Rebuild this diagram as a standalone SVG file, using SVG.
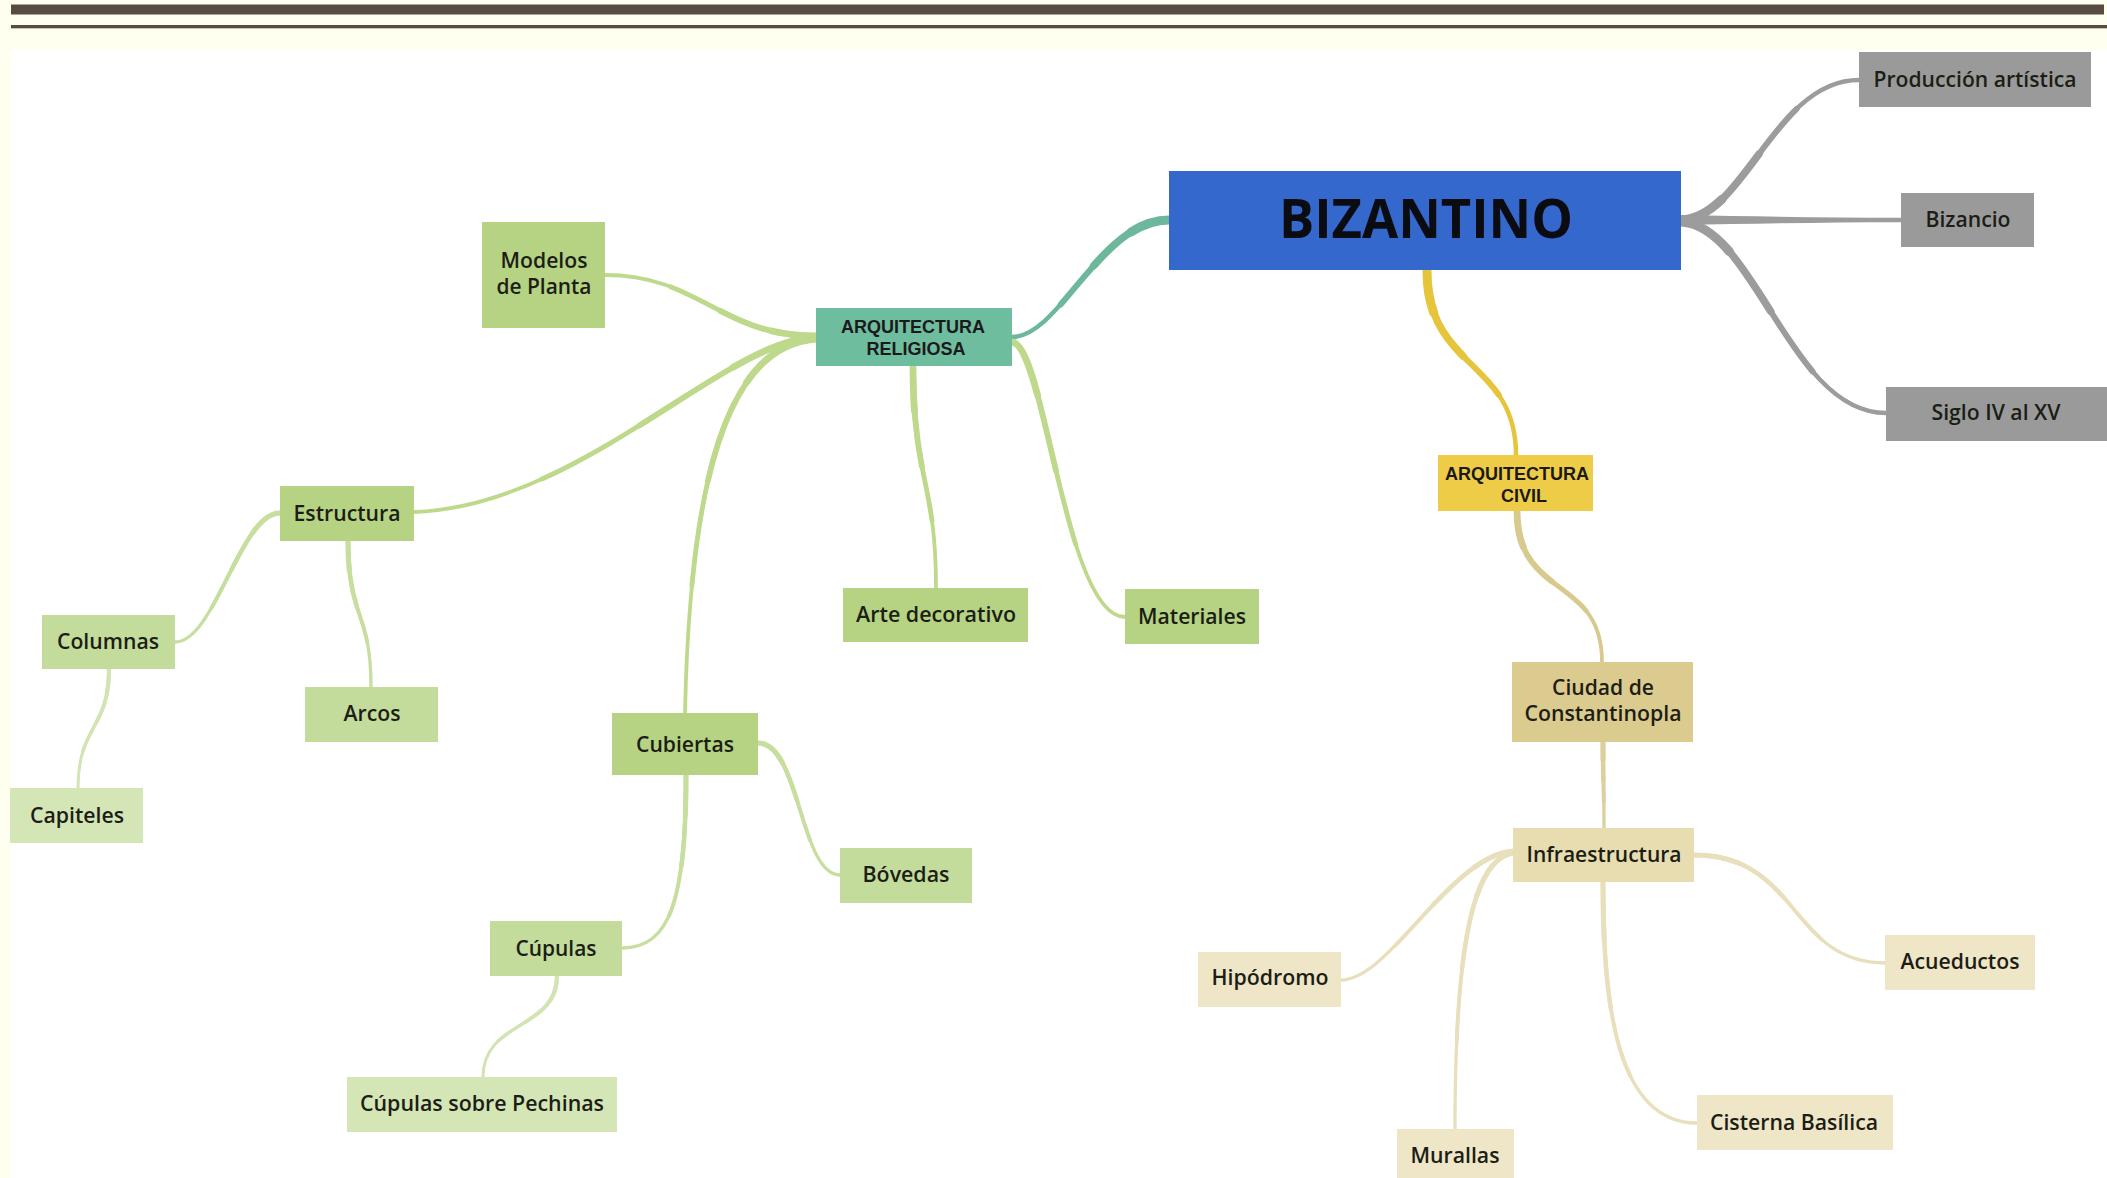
<svg xmlns="http://www.w3.org/2000/svg" xmlns:xlink="http://www.w3.org/1999/xlink" width="2107" height="1178" viewBox="0 0 2107 1178">
<style>
.cn use{fill:none}
.cn .a{stroke-linecap:butt}
.cn .b{stroke-linecap:round;stroke-dasharray:70 200}
.cn .c{stroke-linecap:round;stroke-dasharray:45 200}
.cn .d{stroke-linecap:round;stroke-dasharray:20 200}
.gry{stroke:#9c9c9c}.tea{stroke:#6db89c}.yel{stroke:#e6c53c}
.gr2{stroke:#bfd98c}.gr3{stroke:#c7de9f}.gr4{stroke:#d2e4b3}
.tn2{stroke:#d8ca8e}.tn3{stroke:#ddd09e}.tn4{stroke:#e8dfbc}
.L1 .a{stroke-width:4.5}.L1 .b{stroke-width:6}.L1 .c{stroke-width:7.5}.L1 .d{stroke-width:9}
.L2 .a{stroke-width:3.8}.L2 .b{stroke-width:4.8}.L2 .c{stroke-width:5.8}.L2 .d{stroke-width:6.8}
.L3 .a{stroke-width:3.3}.L3 .b{stroke-width:3.9}.L3 .c{stroke-width:4.5}.L3 .d{stroke-width:5.1}
.L4 .a{stroke-width:3}.L4 .b{stroke-width:3.4}.L4 .c{stroke-width:3.8}.L4 .d{stroke-width:4.2}
.bx-gray{fill:#9a9a9a}.bx-blue{fill:#3468cd}.bx-teal{fill:#6fbd9f}
.bx-g2{fill:#b5d383}.bx-g3{fill:#c4dc9b}.bx-g4{fill:#d4e6b6}
.bx-yel{fill:#eecc48}.bx-t2{fill:#dccb8e}.bx-t3{fill:#e8ddb0}.bx-t4{fill:#eee6c6}
.lb{font-family:"Open Sans","Liberation Sans",sans-serif;font-weight:600;font-size:21px;fill:#1c1e16;text-anchor:middle}
.ar{font-family:"Liberation Sans",Arial,sans-serif;font-weight:700;font-size:18px;fill:#1a1a1a;text-anchor:middle}
.ti{font-family:"Open Sans","Liberation Sans",sans-serif;font-weight:700;font-size:53px;fill:#0b0b12;text-anchor:middle}
</style>
<defs>
<path id="c1" pathLength="100" d="M1681 220 C1745 218 1775 80 1859 80"/>
<path id="c3" pathLength="100" d="M1681 222 C1755 225 1790 413 1886 413"/>
<path id="c4" pathLength="100" d="M1169 220 C1100 220 1060 337 1012 337"/>
<path id="c5" pathLength="100" d="M1427 271 C1427 370 1516 360 1516 455"/>
<path id="c6" pathLength="100" d="M816 336 C720 336 700 275 605 275"/>
<path id="c7" pathLength="100" d="M816 338 C730 335 580 507 414 512"/>
<path id="c8" pathLength="100" d="M816 339 C730 345 690 470 685 713"/>
<path id="c9" pathLength="100" d="M913 366 C913 480 936 480 936 588"/>
<path id="c10" pathLength="100" d="M1012 342 C1045 345 1065 617 1125 617"/>
<path id="c11" pathLength="100" d="M280 513 C240 513 215 642 175 642"/>
<path id="c12" pathLength="100" d="M348 541 C348 620 371 610 371 687"/>
<path id="c13" pathLength="100" d="M758 743 C800 743 800 875 840 875"/>
<path id="c14" pathLength="100" d="M686 775 C686 900 670 948 622 948"/>
<path id="c15" pathLength="100" d="M109 669 C109 730 78 725 78 788"/>
<path id="c16" pathLength="100" d="M557 976 C557 1030 483 1020 483 1077"/>
<path id="c17" pathLength="100" d="M1517 511 C1517 600 1602 575 1602 662"/>
<path id="c18" pathLength="100" d="M1603 742 C1603 785 1604 785 1604 828"/>
<path id="c19" pathLength="100" d="M1514 851 C1450 855 1390 980 1341 980"/>
<path id="c20" pathLength="100" d="M1513 853 C1470 860 1455 960 1455 1129"/>
<path id="c21" pathLength="100" d="M1603 882 C1603 1000 1615 1123 1697 1123"/>
<path id="c22" pathLength="100" d="M1694 855 C1800 855 1790 963 1885 963"/>
</defs>

<g id="background">
<rect width="2107" height="1178" fill="#fffff0"/>
<rect x="11" y="50" width="2096" height="1128" fill="#ffffff"/>
<rect x="11" y="4" width="2093" height="11" fill="#aaa39a"/>
<rect x="11" y="5" width="2093" height="9" fill="#574b44"/>
<rect x="11" y="25" width="2096" height="4" fill="#c8c2b8"/>
<rect x="11" y="25" width="2096" height="3" fill="#574b44"/>
</g>

<g id="connectors">
<g class="cn gry L1"><use href="#c1" class="a"/><use href="#c1" class="b"/><use href="#c1" class="c"/><use href="#c1" class="d"/></g>
<path id="c2" d="M1681 215 C1760 216.5 1830 217.7 1901 217.8 L1901 222.2 C1830 222.3 1760 223.5 1681 225 Z" fill="#9c9c9c"/>
<g class="cn gry L1"><use href="#c3" class="a"/><use href="#c3" class="b"/><use href="#c3" class="c"/><use href="#c3" class="d"/></g>
<g class="cn tea L1"><use href="#c4" class="a"/><use href="#c4" class="b"/><use href="#c4" class="c"/><use href="#c4" class="d"/></g>
<g class="cn yel L1"><use href="#c5" class="a"/><use href="#c5" class="b"/><use href="#c5" class="c"/><use href="#c5" class="d"/></g>
<g class="cn gr2 L2"><use href="#c6" class="a"/><use href="#c6" class="b"/><use href="#c6" class="c"/><use href="#c6" class="d"/></g>
<g class="cn gr2 L2"><use href="#c7" class="a"/><use href="#c7" class="b"/><use href="#c7" class="c"/><use href="#c7" class="d"/></g>
<g class="cn gr2 L2"><use href="#c8" class="a"/><use href="#c8" class="b"/><use href="#c8" class="c"/><use href="#c8" class="d"/></g>
<g class="cn gr2 L2"><use href="#c9" class="a"/><use href="#c9" class="b"/><use href="#c9" class="c"/><use href="#c9" class="d"/></g>
<g class="cn gr2 L2"><use href="#c10" class="a"/><use href="#c10" class="b"/><use href="#c10" class="c"/><use href="#c10" class="d"/></g>
<g class="cn gr3 L3"><use href="#c11" class="a"/><use href="#c11" class="b"/><use href="#c11" class="c"/><use href="#c11" class="d"/></g>
<g class="cn gr3 L3"><use href="#c12" class="a"/><use href="#c12" class="b"/><use href="#c12" class="c"/><use href="#c12" class="d"/></g>
<g class="cn gr3 L3"><use href="#c13" class="a"/><use href="#c13" class="b"/><use href="#c13" class="c"/><use href="#c13" class="d"/></g>
<g class="cn gr3 L3"><use href="#c14" class="a"/><use href="#c14" class="b"/><use href="#c14" class="c"/><use href="#c14" class="d"/></g>
<g class="cn gr4 L4"><use href="#c15" class="a"/><use href="#c15" class="b"/><use href="#c15" class="c"/><use href="#c15" class="d"/></g>
<g class="cn gr4 L4"><use href="#c16" class="a"/><use href="#c16" class="b"/><use href="#c16" class="c"/><use href="#c16" class="d"/></g>
<g class="cn tn2 L2"><use href="#c17" class="a"/><use href="#c17" class="b"/><use href="#c17" class="c"/><use href="#c17" class="d"/></g>
<g class="cn tn3 L3"><use href="#c18" class="a"/><use href="#c18" class="b"/><use href="#c18" class="c"/><use href="#c18" class="d"/></g>
<g class="cn tn4 L3"><use href="#c19" class="a"/><use href="#c19" class="b"/><use href="#c19" class="c"/><use href="#c19" class="d"/></g>
<g class="cn tn4 L3"><use href="#c20" class="a"/><use href="#c20" class="b"/><use href="#c20" class="c"/><use href="#c20" class="d"/></g>
<g class="cn tn4 L3"><use href="#c21" class="a"/><use href="#c21" class="b"/><use href="#c21" class="c"/><use href="#c21" class="d"/></g>
<g class="cn tn4 L3"><use href="#c22" class="a"/><use href="#c22" class="b"/><use href="#c22" class="c"/><use href="#c22" class="d"/></g>
</g>

<g id="n-bizantino"><rect class="bx-blue" x="1169" y="171" width="512" height="99"/><text class="ti" x="1426" y="238" textLength="294" lengthAdjust="spacingAndGlyphs">BIZANTINO</text></g>
<g id="n-produccion"><rect class="bx-gray" x="1859" y="52" width="232" height="55"/><text class="lb" x="1975" y="87" textLength="203" lengthAdjust="spacingAndGlyphs">Producción artística</text></g>
<g id="n-bizancio"><rect class="bx-gray" x="1901" y="193" width="133" height="54"/><text class="lb" x="1968" y="227" textLength="85" lengthAdjust="spacingAndGlyphs">Bizancio</text></g>
<g id="n-siglo"><rect class="bx-gray" x="1886" y="387" width="221" height="54"/><text class="lb" x="1996" y="420" textLength="129" lengthAdjust="spacingAndGlyphs">Siglo IV al XV</text></g>

<g id="n-arq-religiosa"><rect class="bx-teal" x="816" y="308" width="196" height="58"/><text class="ar" x="913" y="333">ARQUITECTURA</text><text class="ar" x="916" y="355">RELIGIOSA</text></g>
<g id="n-modelos"><rect class="bx-g2" x="482" y="222" width="123" height="106"/><text class="lb" x="544" y="268" textLength="87" lengthAdjust="spacingAndGlyphs">Modelos</text><text class="lb" x="544" y="294" textLength="95" lengthAdjust="spacingAndGlyphs">de Planta</text></g>
<g id="n-estructura"><rect class="bx-g2" x="280" y="486" width="134" height="55"/><text class="lb" x="347" y="521" textLength="107" lengthAdjust="spacingAndGlyphs">Estructura</text></g>
<g id="n-columnas"><rect class="bx-g3" x="42" y="615" width="133" height="54"/><text class="lb" x="108" y="649" textLength="102" lengthAdjust="spacingAndGlyphs">Columnas</text></g>
<g id="n-arcos"><rect class="bx-g3" x="305" y="687" width="133" height="55"/><text class="lb" x="372" y="721" textLength="57" lengthAdjust="spacingAndGlyphs">Arcos</text></g>
<g id="n-capiteles"><rect class="bx-g4" x="10" y="788" width="133" height="55"/><text class="lb" x="77" y="823" textLength="94" lengthAdjust="spacingAndGlyphs">Capiteles</text></g>
<g id="n-arte"><rect class="bx-g2" x="843" y="588" width="185" height="54"/><text class="lb" x="936" y="622" textLength="160" lengthAdjust="spacingAndGlyphs">Arte decorativo</text></g>
<g id="n-materiales"><rect class="bx-g2" x="1125" y="589" width="134" height="55"/><text class="lb" x="1192" y="624" textLength="108" lengthAdjust="spacingAndGlyphs">Materiales</text></g>
<g id="n-cubiertas"><rect class="bx-g2" x="612" y="713" width="146" height="62"/><text class="lb" x="685" y="752" textLength="98" lengthAdjust="spacingAndGlyphs">Cubiertas</text></g>
<g id="n-bovedas"><rect class="bx-g3" x="840" y="848" width="132" height="55"/><text class="lb" x="906" y="882" textLength="87" lengthAdjust="spacingAndGlyphs">Bóvedas</text></g>
<g id="n-cupulas"><rect class="bx-g3" x="490" y="921" width="132" height="55"/><text class="lb" x="556" y="956" textLength="81" lengthAdjust="spacingAndGlyphs">Cúpulas</text></g>
<g id="n-pechinas"><rect class="bx-g4" x="347" y="1077" width="270" height="55"/><text class="lb" x="482" y="1111" textLength="244" lengthAdjust="spacingAndGlyphs">Cúpulas sobre Pechinas</text></g>

<g id="n-arq-civil"><rect class="bx-yel" x="1438" y="455" width="155" height="56"/><text class="ar" x="1517" y="480">ARQUITECTURA</text><text class="ar" x="1524" y="502">CIVIL</text></g>
<g id="n-ciudad"><rect class="bx-t2" x="1512" y="662" width="181" height="80"/><text class="lb" x="1603" y="695" textLength="102" lengthAdjust="spacingAndGlyphs">Ciudad de</text><text class="lb" x="1603" y="721" textLength="157" lengthAdjust="spacingAndGlyphs">Constantinopla</text></g>
<g id="n-infraestructura"><rect class="bx-t3" x="1513" y="828" width="181" height="54"/><text class="lb" x="1604" y="862" textLength="155" lengthAdjust="spacingAndGlyphs">Infraestructura</text></g>
<g id="n-hipodromo"><rect class="bx-t4" x="1198" y="952" width="143" height="55"/><text class="lb" x="1270" y="985" textLength="117" lengthAdjust="spacingAndGlyphs">Hipódromo</text></g>
<g id="n-acueductos"><rect class="bx-t4" x="1885" y="935" width="150" height="55"/><text class="lb" x="1960" y="969" textLength="119" lengthAdjust="spacingAndGlyphs">Acueductos</text></g>
<g id="n-cisterna"><rect class="bx-t4" x="1697" y="1095" width="196" height="55"/><text class="lb" x="1794" y="1130" textLength="168" lengthAdjust="spacingAndGlyphs">Cisterna Basílica</text></g>
<g id="n-murallas"><rect class="bx-t4" x="1397" y="1129" width="117" height="60"/><text class="lb" x="1455" y="1163" textLength="89" lengthAdjust="spacingAndGlyphs">Murallas</text></g>
</svg>
